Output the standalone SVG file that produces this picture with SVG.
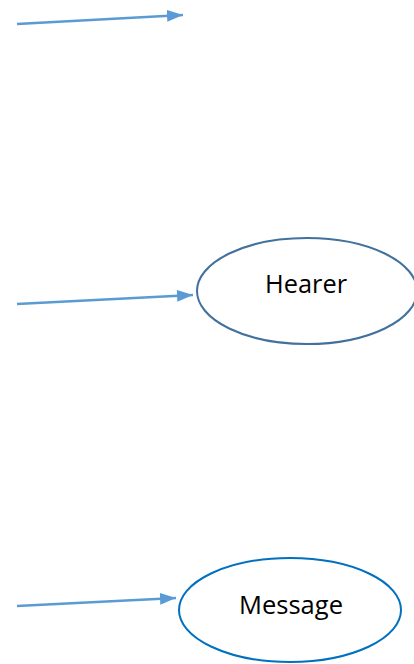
<svg xmlns="http://www.w3.org/2000/svg" width="414" height="664" viewBox="0 0 414 664">
<style>
.conn{stroke:#5B9BD5;stroke-width:2.5;fill:none}
.lbl{font-family:"Open Sans","Liberation Sans",sans-serif;font-size:25px;fill:#000;text-anchor:middle;dominant-baseline:central}
</style>
<defs>
<marker id="ah" viewBox="0 0 16 12" refX="16" refY="6" markerWidth="16" markerHeight="12" markerUnits="userSpaceOnUse" orient="auto">
<path d="M0,0 L16,6 L0,12 z" fill="#5B9BD5"/>
</marker>
</defs>
<rect width="414" height="664" fill="#fff"/>
<g id="connectors">
<line class="conn" x1="17" y1="24" x2="183" y2="15" marker-end="url(#ah)"/>
<line class="conn" x1="17" y1="304" x2="193" y2="295" marker-end="url(#ah)"/>
<line class="conn" x1="17" y1="606" x2="176" y2="598" marker-end="url(#ah)"/>
</g>
<g id="hearer">
<ellipse cx="307" cy="291" rx="110" ry="53" fill="#fff" stroke="#41719C" stroke-width="2"/>
<text class="lbl" x="306" y="283" textLength="82" lengthAdjust="spacingAndGlyphs">Hearer</text>
</g>
<g id="message">
<ellipse cx="290" cy="610" rx="111" ry="52" fill="#fff" stroke="#0070C0" stroke-width="2"/>
<text class="lbl" x="291" y="604" textLength="104" lengthAdjust="spacingAndGlyphs">Message</text>
</g>
</svg>
